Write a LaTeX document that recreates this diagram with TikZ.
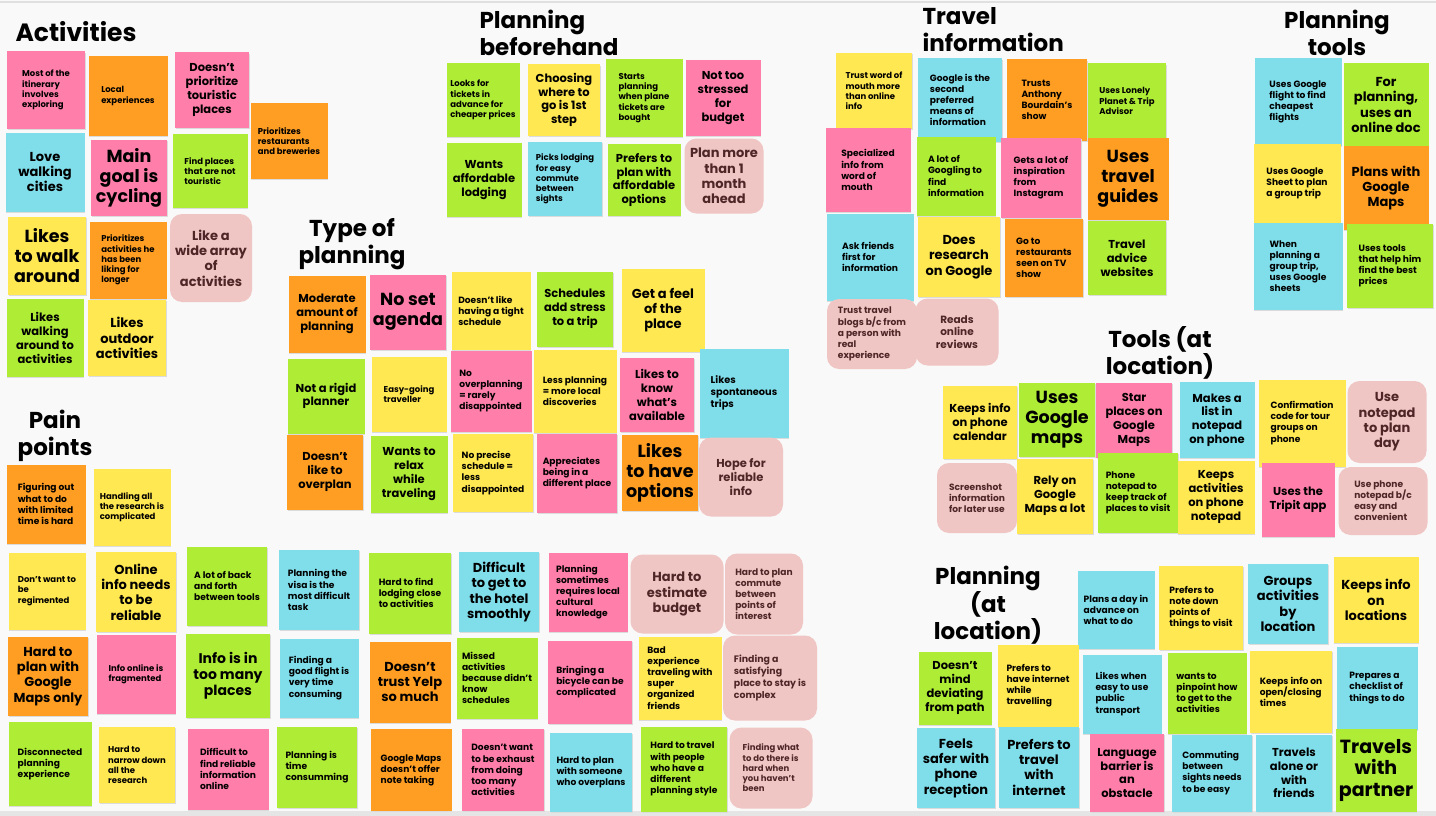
\documentclass[tikz,border=0pt]{standalone}
\usepackage{fontspec}
\setmainfont{Poppins}

\definecolor{nPink}{RGB}{255,126,170}
\definecolor{nOrange}{RGB}{255,158,34}
\definecolor{nYellow}{RGB}{255,232,82}
\definecolor{nGreen}{RGB}{174,236,54}
\definecolor{nCyan}{RGB}{128,222,234}
\definecolor{nRose}{RGB}{240,198,196}
\definecolor{roseText}{RGB}{78,38,38}
\definecolor{board}{RGB}{249,249,249}

\tikzset{
  note/.style={inner sep=0pt,text=black},
  sticky/.style={note,preaction={fill=black!14,transform canvas={xshift=0.7pt,yshift=-1.3pt}}},
  pk/.style={sticky,fill=nPink},
  og/.style={sticky,fill=nOrange},
  yl/.style={sticky,fill=nYellow},
  gn/.style={sticky,fill=nGreen},
  cy/.style={sticky,fill=nCyan},
  rs/.style={note,fill=nRose,rounded corners=12pt,text=roseText},
  sm/.style={font=\bfseries\fontsize{8.5}{10.2}\selectfont,align=left},
  sx/.style={font=\bfseries\fontsize{9.1}{11.1}\selectfont,align=left},
  md/.style={font=\bfseries\fontsize{11.5}{13.8}\selectfont,align=center},
  ml/.style={font=\bfseries\fontsize{13}{15.3}\selectfont,align=center},
  lg/.style={font=\bfseries\fontsize{17.5}{20}\selectfont,align=center},
  sz/.style 2 args={minimum width=#1,minimum height=#2},
  heading/.style={font=\bfseries\fontsize{23}{27}\selectfont,align=center},
}

\begin{document}
\begin{tikzpicture}[x=1pt,y=-1pt]
\useasboundingbox (0,0) rectangle (1436,816);
\fill[board] (0,0) rectangle (1436,816);
\draw[black!12,line width=1.5pt] (0,2) -- (1436,2);
\fill[black!10] (0,811) rectangle (1436,816);

% activities
\node[heading,font=\bfseries\fontsize{25}{27}\selectfont] (tAct) at (76,32) {Activities};
\node[pk,sm,sz={78}{77}] (act1) at (46,90) {Most of the\\itinerary\\involves\\exploring};
\node[og,sm,sz={79}{79}] (act2) at (128,96) {Local\\experiences};
\node[pk,md,sz={74}{75}] (act3) at (212,90) {Doesn't\\prioritize\\touristic\\places};
\node[og,sm,sz={77}{76}] (act4) at (289,141) {Prioritizes\\restaurants\\and breweries};
\node[cy,ml,sz={79}{79}] (act5) at (45,172) {Love\\walking\\cities};
\node[pk,lg,sz={76}{76}] (act6) at (129,178) {Main\\goal is\\cycling};
\node[gn,sm,sz={75}{74}] (act7) at (210,171) {Find places\\that are not\\touristic};
\node[yl,lg,sz={78}{78}] (act8) at (47,256) {Likes\\to walk\\around};
\node[og,sm,sz={77}{77}] (act9) at (128,260) {Prioritizes\\activities he\\has been\\liking for\\longer};
\node[rs,ml,sz={82}{88}] (act10) at (211,258) {Like a\\wide array\\of\\activities};
\node[gn,md,sz={77}{78}] (act11) at (45,338) {Likes\\walking\\around to\\activities};
\node[yl,ml,sz={78}{76}] (act12) at (127,338) {Likes\\outdoor\\activities};

% planning beforehand
\node[heading,align=left,anchor=west] (tPb) at (476,33) {Planning\\beforehand};
\node[gn,sm,sz={73}{73}] (pb1) at (483,100) {Looks for\\tickets in\\advance for\\cheaper prices};
\node[yl,md,sz={72}{71}] (pb2) at (564,100) {Choosing\\where to\\go is 1st\\step};
\node[gn,sm,sz={77}{77}] (pb3) at (644,98) {Starts\\planning\\when plane\\tickets are\\bought};
\node[pk,md,sz={75}{75}] (pb4) at (723,98) {Not too\\stressed\\for\\budget};
\node[gn,md,sz={75}{74}] (pb5) at (484,180) {Wants\\affordable\\lodging};
\node[cy,sm,sz={74}{74}] (pb6) at (565,179) {Picks lodging\\for easy\\commute\\between\\sights};
\node[gn,md,sz={73}{72}] (pb7) at (644,180) {Prefers to\\plan with\\affordable\\options};
\node[rs,ml,sz={79}{75}] (pb8) at (724,176) {Plan more\\than 1\\month\\ahead};

% travel information
\node[heading,align=left,anchor=west] (tTi) at (919,30) {Travel\\information};
\node[yl,sm,sz={76}{76}] (ti1) at (874,91) {Trust word of\\mouth more\\than online\\info};
\node[cy,sx,sz={84}{83}] (ti2) at (960,100) {Google is the\\second\\preferred\\means of\\information};
\node[og,sx,sz={80}{81}] (ti3) at (1047,100) {Trusts\\Anthony\\Bourdain's\\show};
\node[gn,sm,sz={78}{75}] (ti4) at (1127,101) {Uses Lonely\\Planet \& Trip\\Advisor};
\node[pk,sx,sz={85}{84}] (ti5) at (868,170) {Specialized\\info from\\word of\\mouth};
\node[gn,sx,sz={79}{79}] (ti6) at (956,176) {A lot of\\Googling to\\find\\information};
\node[pk,sx,sz={80}{80}] (ti7) at (1041,178) {Gets a lot of\\inspiration\\from\\Instagram};
\node[og,lg,sz={81}{82}] (ti8) at (1128,179) {Uses\\travel\\guides};
\node[cy,sx,sz={87}{87}] (ti9) at (870,257) {Ask friends\\first for\\information};
\node[yl,ml,sz={82}{80}] (ti10) at (959,257) {Does\\research\\on Google};
\node[og,sx,sz={78}{78}] (ti11) at (1044,258) {Go to\\restaurants\\seen on TV\\show};
\node[gn,md,sz={78}{74}] (ti12) at (1127,258) {Travel\\advice\\websites};
\node[rs,sx,sz={90}{70}] (ti13) at (872,334) {Trust travel\\blogs b/c from\\a person with\\real\\experience};
\node[rs,md,font=\bfseries\fontsize{10.5}{12.7}\selectfont,sz={83}{67}] (ti14) at (957,332) {Reads\\online\\reviews};

% planning tools
\node[heading] (tPt) at (1337,33) {Planning\\tools};
\node[cy,sx,sz={87}{87}] (pt1) at (1298,102) {Uses Google\\flight to find\\cheapest\\flights};
\node[gn,ml,sz={85}{84}] (pt2) at (1386,105) {For\\planning,\\uses an\\online doc};
\node[yl,sx,sz={87}{79}] (pt3) at (1297,183) {Uses Google\\Sheet to plan\\a group trip};
\node[og,ml,sz={85}{84}] (pt4) at (1386,188) {Plans with\\Google\\Maps};
\node[cy,sx,sz={89}{87}] (pt5) at (1298,266) {When\\planning a\\group trip,\\uses Google\\sheets};
\node[gn,sx,sz={86}{84}] (pt6) at (1390,266) {Uses tools\\that help him\\find the best\\prices};

% type of planning
\node[heading] (tTp) at (352,244) {Type of\\planning};
\node[og,md,sz={77}{77}] (tp1) at (327,314) {Moderate\\amount of\\planning};
\node[pk,lg,sz={76}{75}] (tp2) at (408,312) {No set\\agenda};
\node[yl,sx,sz={79}{78}] (tp3) at (491,311) {Doesn't like\\having a tight\\schedule};
\node[gn,md,sz={76}{75}] (tp4) at (575,309) {Schedules\\add stress\\to a trip};
\node[yl,ml,sz={83}{83}] (tp5) at (663,310) {Get a feel\\of the\\place};
\node[gn,md,sz={77}{75}] (tp6) at (326,396) {Not a rigid\\planner};
\node[yl,sm,sz={75}{75}] (tp7) at (409,394) {Easy-going\\traveller};
\node[pk,sx,sz={81}{81}] (tp8) at (491,391) {No\\overplanning\\= rarely\\disappointed};
\node[yl,sx,sz={83}{83}] (tp9) at (575,391) {Less planning\\= more local\\discoveries};
\node[pk,md,sz={74}{74}] (tp10) at (657,395) {Likes to\\know\\what's\\available};
\node[cy,sx,font=\bfseries\fontsize{9.8}{12}\selectfont,sz={89}{89}] (tp11) at (744,393) {Likes\\spontaneous\\trips};
\node[og,md,sz={76}{75}] (tp12) at (325,472) {Doesn't\\like to\\overplan};
\node[gn,md,sz={77}{77}] (tp13) at (409,474) {Wants to\\relax\\while\\traveling};
\node[yl,sx,sz={80}{78}] (tp14) at (493,473) {No precise\\schedule =\\less\\disappointed};
\node[pk,sx,sz={80}{79}] (tp15) at (577,473) {Appreciates\\being in a\\different place};
\node[og,lg,sz={76}{76}] (tp16) at (660,473) {Likes\\to have\\options};
\node[rs,md,sz={84}{79}] (tp17) at (741,477) {Hope for\\reliable\\info};

% tools (at location)
\node[heading] (tTl) at (1160,353) {Tools (at\\location)};
\node[yl,md,sz={74}{73}] (tl1) at (980,422) {Keeps info\\on phone\\calendar};
\node[gn,lg,sz={76}{74}] (tl2) at (1057,420) {Uses\\Google\\maps};
\node[pk,md,sz={76}{75}] (tl3) at (1134,420) {Star\\places on\\Google\\Maps};
\node[cy,md,sz={75}{76}] (tl4) at (1217,420) {Makes a\\list in\\notepad\\on phone};
\node[yl,sx,sz={87}{87}] (tl5) at (1302,423) {Confirmation\\code for tour\\groups on\\phone};
\node[rs,ml,sz={79}{82}] (tl6) at (1387,422) {Use\\notepad\\to plan\\day};
\node[rs,sx,sz={80}{70}] (tl7) at (977,498) {Screenshot\\information\\for later use};
\node[yl,md,sz={76}{75}] (tl8) at (1055,496) {Rely on\\Google\\Maps a lot};
\node[gn,sx,sz={80}{80}] (tl9) at (1138,493) {Phone\\notepad to\\keep track of\\places to visit};
\node[yl,md,sz={77}{73}] (tl10) at (1216,497) {Keeps\\activities\\on phone\\notepad};
\node[pk,md,sz={73}{74}] (tl11) at (1298,500) {Uses the\\Tripit app};
\node[rs,sx,sz={89}{68}] (tl12) at (1383,501) {Use phone\\notepad b/c\\easy and\\convenient};

% pain points
\node[heading] (tPp) at (55,436) {Pain\\points};
\node[og,sx,sz={79}{79}] (pp1) at (46,504) {Figuring out\\what to do\\with limited\\time is hard};
\node[yl,sm,sz={77}{77}] (pp2) at (132,507) {Handling all\\the research is\\complicated};
\node[yl,sm,sz={77}{77}] (pp3) at (47,591) {Don't want to\\be\\regimented};
\node[yl,ml,sz={80}{80}] (pp4) at (136,592) {Online\\info needs\\to be\\reliable};
\node[gn,sx,sz={80}{79}] (pp5) at (227,586) {A lot of back\\and forth\\between tools};
\node[cy,sx,sz={80}{80}] (pp6) at (319,590) {Planning the\\visa is the\\most difficult\\task};
\node[og,ml,sz={80}{79}] (pp7) at (48,676) {Hard to\\plan with\\Google\\Maps only};
\node[pk,sm,sz={79}{79}] (pp8) at (136,674) {Info online is\\fragmented};
\node[gn,ml,font=\bfseries\fontsize{14}{16}\selectfont,sz={84}{84}] (pp9) at (228,676) {Info is in\\too many\\places};
\node[cy,sx,sz={79}{79}] (pp10) at (319,678) {Finding a\\good flight is\\very time\\consuming};
\node[gn,sx,sz={83}{84}] (pp11) at (50,764) {Disconnected\\planning\\experience};
\node[yl,sm,sz={76}{76}] (pp12) at (137,765) {Hard to\\narrow down\\all the\\research};
\node[pk,sx,sz={81}{81}] (pp13) at (228,769) {Difficult to\\find reliable\\information\\online};
\node[gn,sx,sz={80}{81}] (pp14) at (317,767) {Planning is\\time\\consumming};
\node[gn,sx,sz={82}{81}] (pp15) at (410,593) {Hard to find\\lodging close\\to activities};
\node[cy,ml,sz={80}{80}] (pp16) at (499,592) {Difficult\\to get to\\the hotel\\smoothly};
\node[pk,sx,sz={79}{79}] (pp17) at (588,592) {Planning\\sometimes\\requires local\\cultural\\knowledge};
\node[rs,ml,sz={93}{79}] (pp18) at (677,594) {Hard to\\estimate\\budget};
\node[rs,sx,sz={78}{81}] (pp19) at (764,594) {Hard to plan\\commute\\between\\points of\\interest};
\node[og,ml,sz={81}{81}] (pp20) at (410,682) {Doesn't\\trust Yelp\\so much};
\node[gn,sx,sz={81}{81}] (pp21) at (497,678) {Missed\\activities\\because didn't\\know\\schedules};
\node[pk,sx,sz={84}{83}] (pp22) at (590,682) {Bringing a\\bicycle can be\\complicated};
\node[yl,sx,sz={83}{83}] (pp23) at (680,678) {Bad\\experience\\traveling with\\super\\organized\\friends};
\node[rs,sx,font=\bfseries\fontsize{9.4}{11.8}\selectfont,sz={94}{85}] (pp24) at (770,678) {Finding a\\satisfying\\place to stay is\\complex};
\node[og,sx,sz={81}{82}] (pp25) at (411,770) {Google Maps\\doesn't offer\\note taking};
\node[pk,sx,sz={82}{82}] (pp26) at (503,770) {Doesn't want\\to be exhaust\\from doing\\too many\\activities};
\node[cy,sx,sz={82}{79}] (pp27) at (591,772) {Hard to plan\\with someone\\who overplans};
\node[gn,sx,sz={86}{85}] (pp28) at (684,769) {Hard to travel\\with people\\who have a\\different\\planning style};
\node[rs,sm,sz={83}{81}] (pp29) at (771,768) {Finding what\\to do there is\\hard when\\you haven't\\been};

% planning (at location)
\node[heading] (tPl) at (988,605) {Planning\\(at\\location)};
\node[cy,sx,sz={77}{78}] (pl1) at (1116,610) {Plans a day in\\advance on\\what to do};
\node[yl,sx,sz={84}{84}] (pl2) at (1201,608) {Prefers to\\note down\\points of\\things to visit};
\node[cy,ml,sz={80}{80}] (pl3) at (1288,604) {Groups\\activities\\by\\location};
\node[yl,ml,sz={85}{86}] (pl4) at (1376,600) {Keeps info\\on\\locations};
\node[gn,md,sz={73}{73}] (pl5) at (955,688) {Doesn't\\mind\\deviating\\from path};
\node[yl,sx,sz={81}{82}] (pl6) at (1038,686) {Prefers to\\have internet\\while\\travelling};
\node[cy,sx,sz={79}{79}] (pl7) at (1122,694) {Likes when\\easy to use\\public\\transport};
\node[gn,sx,sz={79}{81}] (pl8) at (1207,693) {wants to\\pinpoint how\\to get to the\\activities};
\node[yl,sx,sz={82}{82}] (pl9) at (1291,692) {Keeps info on\\open/closing\\times};
\node[cy,sx,sz={81}{83}] (pl10) at (1377,688) {Prepares a\\checklist of\\things to do};
\node[cy,ml,sz={78}{80}] (pl11) at (956,768) {Feels\\safer with\\phone\\reception};
\node[cy,ml,sz={80}{81}] (pl12) at (1039,767) {Prefers to\\travel\\with\\internet};
\node[pk,md,sz={74}{78}] (pl13) at (1127,773) {Language\\barrier is\\an\\obstacle};
\node[cy,sx,sz={80}{77}] (pl14) at (1212,773) {Commuting\\between\\sights needs\\to be easy};
\node[cy,md,sz={76}{77}] (pl15) at (1294,773) {Travels\\alone or\\with\\friends};
\node[gn,lg,font=\bfseries\fontsize{19}{21.5}\selectfont,sz={81}{83}] (pl16) at (1376,770) {Travels\\with\\partner};
\end{tikzpicture}
\end{document}
